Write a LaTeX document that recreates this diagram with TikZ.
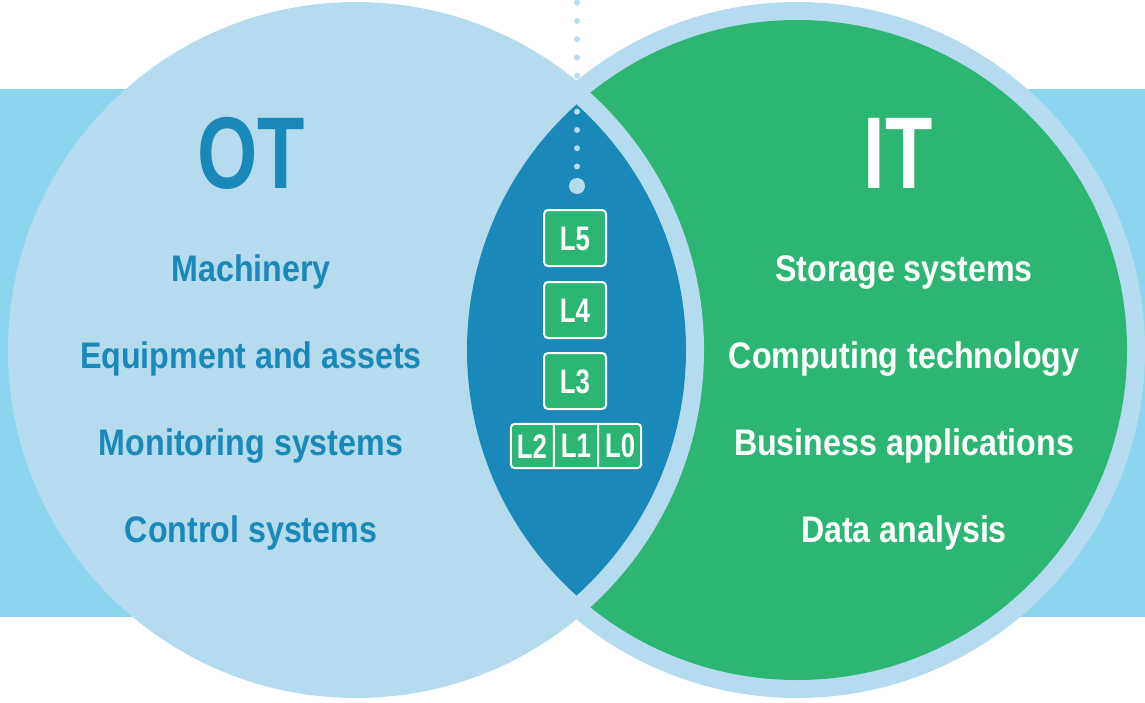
\documentclass[tikz,border=0pt]{standalone}
\usepackage{fontspec}
\setmainfont{Liberation Sans}
\newfontfamily\labelfont{Liberation Sans}[FakeStretch=0.87]
\newfontfamily\headfont{Liberation Sans}[FakeStretch=0.76]
\usetikzlibrary{shapes.multipart}
\definecolor{bandBlue}{HTML}{8CD5EE}
\definecolor{paleBlue}{HTML}{B5DCEE}
\definecolor{deepBlue}{HTML}{1A88B8}
\definecolor{itGreen}{HTML}{2DB673}

\tikzset{
  item/.style={anchor=base, font=\labelfont\bfseries\fontsize{37}{37}\selectfont},
  heading/.style={anchor=base, font=\headfont\bfseries\fontsize{102}{102}\selectfont},
  layerbox/.style={draw=white, line width=2pt, fill=itGreen, rounded corners=4pt,
    text=white, inner sep=0pt, text height=24pt, text depth=0pt,
    font=\headfont\bfseries\fontsize{34}{34}\selectfont},
  dotline/.style={paleBlue, line width=6pt, line cap=round, dash pattern=on 0pt off 18.25pt},
}

\begin{document}
\begin{tikzpicture}[x=1pt, y=-1pt]
		\useasboundingbox (0,0) rectangle (1145,702);
		%%%%%%%%%%%%%
		\coordinate (otc) at (356, 350);
		\coordinate (itc) at (797, 350);
		\fill [bandBlue] (0, 89) rectangle (1145, 617);
		\fill [paleBlue] (itc) circle [radius=348pt];
		\fill [itGreen] (itc) circle [radius=330pt];
		\fill [paleBlue] (otc) circle [radius=348pt];
		\begin{scope}
			\clip (otc) circle [radius=330pt];
			\fill [deepBlue] (itc) circle [radius=330pt];
		\end{scope}
		%%%%%%%%%%%%%
		\node [circle, fill=paleBlue, minimum size=16pt, inner sep=0pt] (hub) at (577, 186) {};
		\draw [dotline] (577, 2.7) -- (577, 76);
		\draw [dotline] (577, 111.7) -- (577, 167);
		%%%%%%%%%%%%%
		\node [heading, text=deepBlue] (ot) at (251, 188) {OT};
		\node [heading, text=white] (it) at (898, 188) {IT};
		\node [item, text=deepBlue] (ot1) at (251, 281) {Machinery};
		\node [item, text=deepBlue] (ot2) at (251, 368) {Equipment and assets};
		\node [item, text=deepBlue] (ot3) at (251, 455) {Monitoring systems};
		\node [item, text=deepBlue] (ot4) at (251, 542) {Control systems};
		\node [item, text=white] (it1) at (904, 281) {Storage systems};
		\node [item, text=white] (it2) at (904, 368) {Computing technology};
		\node [item, text=white] (it3) at (904, 455) {Business applications};
		\node [item, text=white] (it4) at (904, 542) {Data analysis};
		%%%%%%%%%%%%%
		\node [layerbox, minimum width=62pt, minimum height=56pt] (l5) at (575, 238) {L5};
		\node [layerbox, minimum width=62pt, minimum height=56pt] (l4) at (575, 310) {L4};
		\node [layerbox, minimum width=62pt, minimum height=56pt] (l3) at (575, 381) {L3};
		\node [layerbox, rectangle split, rectangle split horizontal, rectangle split parts=3,
			inner xsep=6pt, inner ysep=10pt] (l210) at (576, 446) {L2 \nodepart{two} L1 \nodepart{three} L0};
\end{tikzpicture}
\end{document}
